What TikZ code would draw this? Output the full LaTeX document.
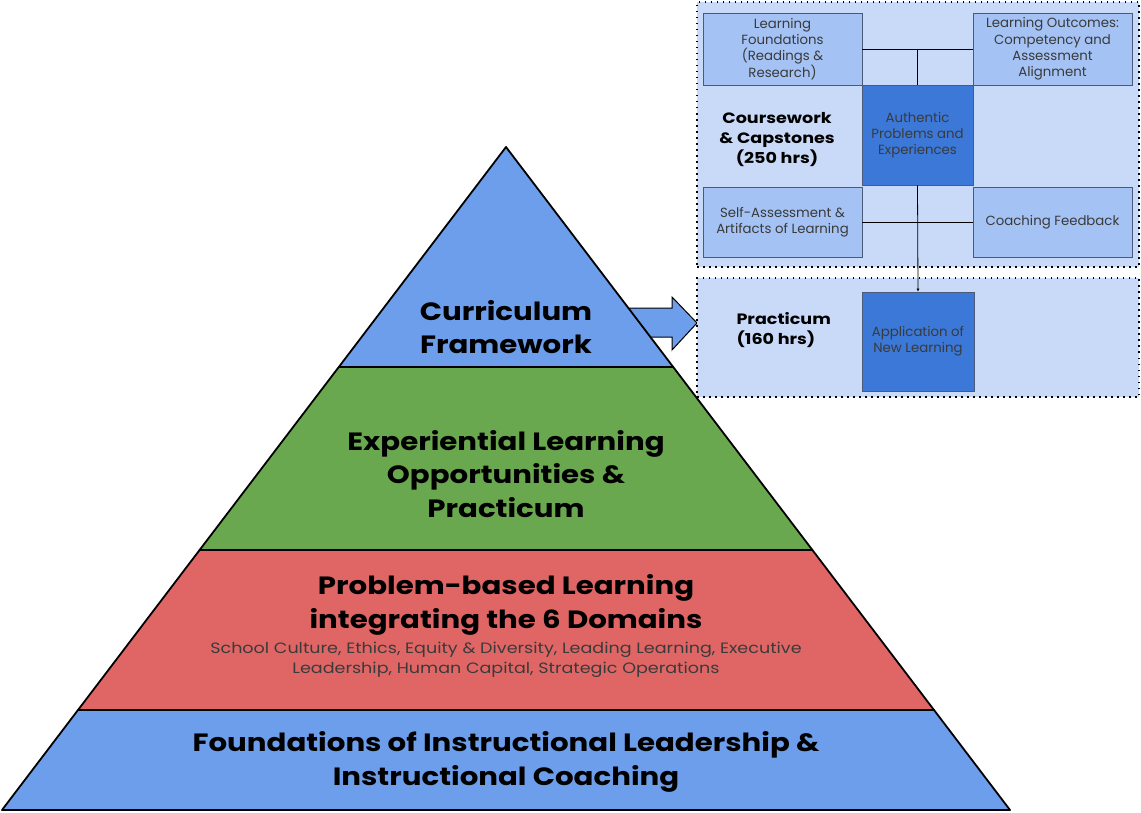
\documentclass[tikz,border=0pt]{standalone}
\usepackage{fontspec}
\setmainfont{Poppins}[FakeStretch=1.17]
\newfontfamily\plainpop{Poppins}
\usetikzlibrary{arrows.meta}
\definecolor{pyrblue}{HTML}{6D9EEB}
\definecolor{pyrgreen}{HTML}{6AA84F}
\definecolor{pyrred}{HTML}{E06666}
\definecolor{panelfill}{HTML}{C9DAF8}
\definecolor{boxfill}{HTML}{A4C2F4}
\definecolor{darkbox}{HTML}{3C78D8}
\definecolor{boxline}{HTML}{4A5A78}
\definecolor{boxtext}{HTML}{3A3A3A}
\begin{document}
\begin{tikzpicture}[x=1pt,y=-1pt,
  layer/.style={draw=black, line width=1.8pt, line join=round},
  bigtext/.style={align=center, font=\bfseries\fontsize{25}{33.5}\selectfont, text=black},
  smalltext/.style={align=center, font=\fontsize{15}{19.5}\selectfont, text=boxtext},
  panel/.style={draw=black, fill=panelfill, line width=1.5pt, dash pattern=on 1.5pt off 4.5pt, minimum width=442pt, inner sep=0pt},
  infobox/.style={draw=boxline, fill=boxfill, line width=0.8pt, align=center, inner sep=0pt, text=boxtext, font=\plainpop\fontsize{13.3}{16.3}\selectfont},
  keybox/.style={infobox, fill=darkbox},
  paneltitle/.style={font=\bfseries\fontsize{15}{20}\selectfont, text=black},
  link/.style={draw=black, line width=0.8pt}
]
\useasboundingbox (0,0) rectangle (1141,813);

% block arrow (drawn first so the pyramid covers its tail)
\filldraw[fill=pyrblue, draw=black, line width=1pt, line join=miter]
  (600,308) -- (672,308) -- (672,297) -- (697,323) -- (672,350) -- (672,337) -- (600,337) -- cycle;

% pyramid layers
\filldraw[layer, fill=pyrblue]  (506,147) -- (673.2,367) -- (338.8,367) -- cycle;
\filldraw[layer, fill=pyrgreen] (338.8,367) -- (673.2,367) -- (812.4,550) -- (199.6,550) -- cycle;
\filldraw[layer, fill=pyrred]   (199.6,550) -- (812.4,550) -- (934,710) -- (78,710) -- cycle;
\filldraw[layer, fill=pyrblue]  (78,710) -- (934,710) -- (1010,810) -- (2,810) -- cycle;

\node[bigtext] (curr) at (506,327) {Curriculum\\Framework};
\node[bigtext] (exp) at (506,474) {Experiential Learning\\Opportunities \&\\Practicum};
\node[bigtext] (pbl) at (506,605) {Problem-based Learning\\integrating the 6 Domains};
\node[smalltext] (dom) at (506,660) {School Culture, Ethics, Equity \& Diversity, Leading Learning, Executive\\Leadership, Human Capital, Strategic Operations};
\node[bigtext] (found) at (506,762) {Foundations of Instructional Leadership \&\\Instructional Coaching};

% panels
\node[panel, minimum height=265pt] (toppanel) at (918,134.5) {};
\node[panel, minimum height=119pt] (botpanel) at (918,337.5) {};

% boxes
\node[infobox, minimum width=159pt, minimum height=72pt] (lf) at (782.5,49) {Learning\\Foundations\\(Readings \&\\Research)};
\node[infobox, minimum width=159pt, minimum height=72pt] (lo) at (1052.5,49) {Learning Outcomes:\\Competency and\\Assessment\\Alignment};
\node[keybox, minimum width=111pt, minimum height=100pt] (ap) at (917.5,135) {Authentic\\Problems and\\Experiences};
\node[infobox, minimum width=159pt, minimum height=70pt] (sa) at (782.5,222) {Self-Assessment \&\\Artifacts of Learning};
\node[infobox, minimum width=159pt, minimum height=70pt] (cf) at (1052.5,222) {Coaching Feedback};
\node[keybox, minimum width=112pt, minimum height=99pt] (app) at (918,341.5) {Application of\\New Learning};

\node[paneltitle, align=center] (cw) at (777,140) {Coursework\\\& Capstones\\(250 hrs)};
\node[paneltitle, align=left, anchor=west] (pr) at (733,330) {Practicum\\(160 hrs)};

% connectors
\coordinate (tj) at (917.5,49);
\coordinate (bj) at (917.5,222);
\draw[link] (lf.east |- tj) -- (lo.west |- tj);
\draw[link] (tj) -- (ap.north);
\draw[link] (sa.east |- bj) -- (cf.west |- bj);
\draw[link, -{Latex[length=3pt,width=3pt]}] (ap.south) -- (app.north);
\end{tikzpicture}
\end{document}
